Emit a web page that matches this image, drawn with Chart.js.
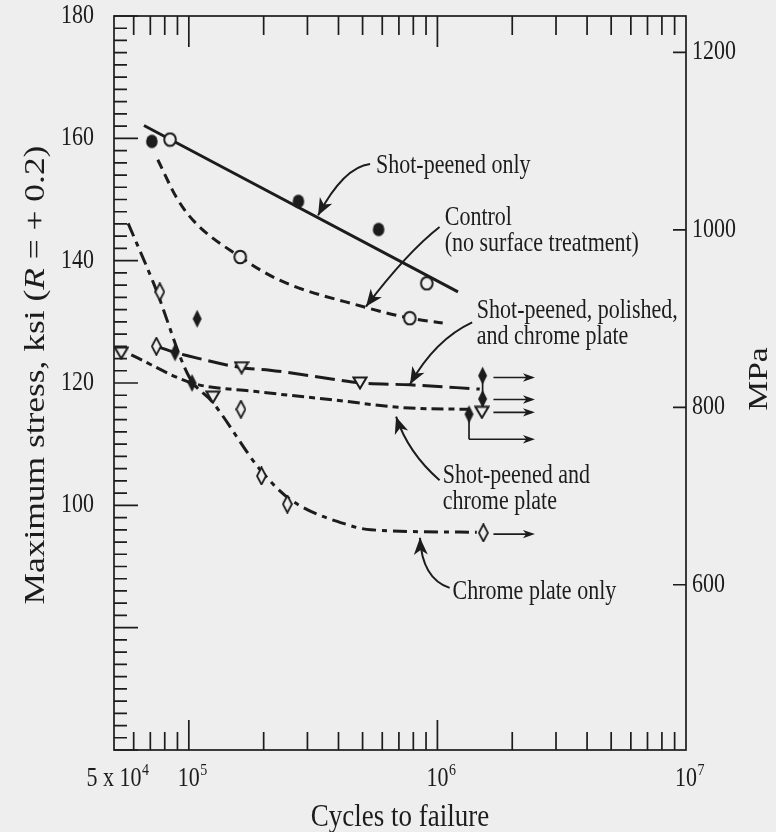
<!DOCTYPE html>
<html>
<head>
<meta charset="utf-8">
<script src="https://cdn.jsdelivr.net/npm/chart.js@4"></script>
<style>
  html, body { margin: 0; padding: 0; background: #eeeeee; }
  canvas { display: block; }
</style>
</head>
<body>
<canvas id="fatigueChart" width="776" height="832"></canvas>
<script>
// ---- data: cycles to failure (N) vs maximum stress (ksi) ----

// Shot-peened only (filled circles) + straight fit
const shotPeenedN = [7.1e4, 2.76e5, 5.8e5];
const shotPeenedKsi = [159.5, 149.7, 145.1];
const shotPeenedFitN = [6.6e4, 1.21e6];
const shotPeenedFitKsi = [162.1, 134.9];

// Control, no surface treatment (open circles)
const controlN = [8.4e4, 1.61e5, 7.74e5, 9.06e5];
const controlKsi = [159.8, 140.6, 130.6, 136.3];
const controlFitN = [7.5e4, 8.9e4, 1.04e5, 1.61e5, 2.32e5, 5.0e5, 7.74e5, 1.05e6];
const controlFitKsi = [156.5, 150.4, 146.6, 140.6, 136.8, 132.5, 130.6, 129.8];

// Shot-peened, polished, and chrome plate (open triangles)
const spPolN = [5.35e4, 1.25e5, 1.63e5, 4.88e5, 1.51e6];
const spPolKsi = [124.9, 117.7, 122.5, 120.0, 115.2];
const spPolFitN = [7.4e4, 8.8e4, 9.8e4, 1.63e5, 2.12e5, 3.69e5, 4.88e5, 7.74e5, 1.48e6];
const spPolFitKsi = [126.0, 125.0, 124.5, 122.5, 122.1, 120.7, 120.0, 119.7, 119.0];

// Shot-peened and chrome plate (filled diamonds)
const spChromeN = [8.8e4, 1.03e5, 1.08e5, 1.34e6, 1.52e6, 1.52e6];
const spChromeKsi = [125.0, 120.0, 130.5, 114.9, 117.4, 121.2];
const spChromeFitN = [5.87e4, 1.03e5, 1.87e5, 3.69e5, 7.74e5, 1.35e6];
const spChromeFitKsi = [124.6, 120.0, 118.6, 117.3, 115.9, 115.7];

// Chrome plate only (open diamonds)
const chromeN = [7.4e4, 7.64e4, 1.62e5, 1.96e5, 2.49e5, 1.53e6];
const chromeKsi = [126.0, 134.9, 115.7, 104.8, 100.2, 95.5];
const chromeFitN = [5.7e4, 7.3e4, 1.0e5, 1.25e5, 1.93e5, 2.55e5, 4.45e5, 5.4e5, 1.44e6];
const chromeFitKsi = [146.1, 135.8, 121.1, 116.8, 105.9, 101.0, 96.7, 96.0, 95.6];

// run-outs (no failure): arrows pointing right
const runoutStartN = [1.68e6, 1.68e6, 1.68e6, 1.34e6, 1.68e6];
const runoutEndN = [2.4e6, 2.4e6, 2.4e6, 2.4e6, 2.4e6];
const runoutKsi = [120.9, 117.3, 115.2, 110.8, 95.3];
// vertical ties joining stacked run-out points
const tieN = [1.52e6, 1.34e6];
const tieTopKsi = [121.5, 115.0];
const tieBottomKsi = [115.2, 110.8];

// axes
const KSI_TO_MPA = 6.895;
const yMin = 60, yMax = 180;
const yTickLabels = [100, 120, 140, 160, 180];
const mpaTicks = [600, 800, 1000, 1200];
const xMin = 5e4, xMax = 1e7;
const xLabelValues = [5e4, 1e5, 1e6, 1e7];
const xLabelBase = ['5 x 10', '10', '10', '10'];
const xLabelExp = ['4', '5', '6', '7'];

// callouts, anchored in data space [N, ksi]
const notes = [
  { lines: ['Shot-peened only'], at: [5.66e5, 154.3], from: [5.36e5, 155.8], via: [4.2e5, 155.3], tip: [3.31e5, 147.4] },
  { lines: ['Control', '(no surface treatment)'], at: [1.07e6, 145.8], from: [1.02e6, 145.5], via: [7.57e5, 141.4], tip: [5.16e5, 132.5] },
  { lines: ['Shot-peened, polished,', 'and chrome plate'], at: [1.44e6, 130.6], from: [1.38e6, 129.9], via: [9.8e5, 127.1], tip: [7.76e5, 119.8] },
  { lines: ['Shot-peened and', 'chrome plate'], at: [1.05e6, 103.7], from: [1.02e6, 104.1], via: [7.62e5, 108.6], tip: [6.82e5, 114.5] },
  { lines: ['Chrome plate only'], at: [1.15e6, 84.7], from: [1.12e6, 86.5], via: [8.67e5, 88.0], tip: [8.51e5, 94.7] }
];

const INK = '#1c1c1c';
const BG = '#eeeeee';
const SERIF = '"Liberation Serif", "Times New Roman", serif';
const STRETCH = 1.2; // scanned figure is a bit taller than wide

const pts = (xs, ys) => xs.map((n, i) => ({ x: n, y: ys[i] }));

function markerCanvas(w, h, draw) {
  const c = document.createElement('canvas');
  c.width = w; c.height = h;
  draw(c.getContext('2d'), w, h);
  return c;
}
const filledDot = markerCanvas(14, 16, (g, w, h) => {
  g.fillStyle = INK; g.beginPath(); g.ellipse(w / 2, h / 2, 5.8, 6.8, 0, 0, Math.PI * 2); g.fill();
});
const openDot = markerCanvas(16, 16, (g, w, h) => {
  g.fillStyle = BG; g.strokeStyle = INK; g.lineWidth = 2;
  g.beginPath(); g.ellipse(w / 2, h / 2, 5.8, 6.3, 0, 0, Math.PI * 2); g.fill(); g.stroke();
});
const openTri = markerCanvas(16, 14, (g, w, h) => {
  g.fillStyle = BG; g.strokeStyle = INK; g.lineWidth = 2;
  g.beginPath(); g.moveTo(1.5, 1.5); g.lineTo(w - 1.5, 1.5); g.lineTo(w / 2, h - 1.5); g.closePath(); g.fill(); g.stroke();
});
const diamondPath = (g, w, h) => {
  g.beginPath(); g.moveTo(w / 2, 1); g.lineTo(w - 1, h / 2); g.lineTo(w / 2, h - 1); g.lineTo(1, h / 2); g.closePath();
};
const filledDiamond = markerCanvas(11, 20, (g, w, h) => { g.fillStyle = INK; diamondPath(g, w, h); g.fill(); });
const openDiamond = markerCanvas(11, 19, (g, w, h) => {
  g.fillStyle = BG; g.strokeStyle = INK; g.lineWidth = 1.8; diamondPath(g, w, h); g.fill(); g.stroke();
});

// lower "order" is drawn on top in Chart.js, so markers get 0, lines 1
const fit = (xs, ys, dash, width) => ({
  data: pts(xs, ys), showLine: true, borderColor: INK, borderWidth: width || 3,
  borderDash: dash, pointRadius: 0, cubicInterpolationMode: 'monotone', order: 1
});
const marks = (xs, ys, style) => ({
  data: pts(xs, ys), showLine: false, pointStyle: style, pointRadius: 6,
  pointBackgroundColor: INK, pointBorderColor: INK, order: 0
});

const datasets = [
  fit(shotPeenedFitN, shotPeenedFitKsi, []),
  fit(controlFitN, controlFitKsi, [10, 6]),
  fit(spPolFitN, spPolFitKsi, [20, 7]),
  fit(spChromeFitN, spChromeFitKsi, [12, 5, 6, 5]),
  fit(chromeFitN, chromeFitKsi, [14, 6, 5, 6])
];
runoutKsi.forEach((k, i) => {
  datasets.push({
    data: pts([runoutStartN[i], runoutEndN[i]], [k, k]), showLine: true, borderColor: INK,
    borderWidth: 1.7, pointRadius: 0, tension: 0, arrowHead: true, order: 1
  });
});
tieN.forEach((n, i) => {
  datasets.push({
    data: pts([n, n], [tieTopKsi[i], tieBottomKsi[i]]), showLine: true, borderColor: INK,
    borderWidth: 1.7, pointRadius: 0, tension: 0, order: 1
  });
});
datasets.push(
  marks(shotPeenedN, shotPeenedKsi, filledDot),
  marks(controlN, controlKsi, openDot),
  marks(spPolN, spPolKsi, openTri),
  marks(spChromeN, spChromeKsi, filledDiamond),
  marks(chromeN, chromeKsi, openDiamond)
);

function drawHead(ctx, tx, ty, fx, fy, len, half) {
  const a = Math.atan2(ty - fy, tx - fx);
  const c = Math.cos(a), s = Math.sin(a);
  ctx.beginPath();
  ctx.moveTo(tx, ty);
  ctx.lineTo(tx - len * c - half * s, ty - len * s + half * c);
  ctx.lineTo(tx - len * 0.72 * c, ty - len * 0.72 * s);
  ctx.lineTo(tx - len * c + half * s, ty - len * s - half * c);
  ctx.closePath();
  ctx.fill();
}

// text helper: optional vertical stretch + rotation, runs of [text, italic]
function drawRuns(ctx, runs, x, y, size, opts) {
  opts = opts || {};
  ctx.save();
  ctx.translate(x, y);
  ctx.scale(1, STRETCH);
  if (opts.rotate) ctx.rotate(-Math.PI / 2);
  ctx.fillStyle = INK;
  ctx.textBaseline = opts.baseline || 'alphabetic';
  ctx.textAlign = 'left';
  const fontOf = it => (it ? 'italic ' : '') + size + 'px ' + SERIF;
  let total = 0;
  runs.forEach(r => { ctx.font = fontOf(r[1]); total += ctx.measureText(r[0]).width; });
  let cx = opts.align === 'center' ? -total / 2 : opts.align === 'right' ? -total : 0;
  runs.forEach(r => { ctx.font = fontOf(r[1]); ctx.fillText(r[0], cx, 0); cx += ctx.measureText(r[0]).width; });
  ctx.restore();
}

const bgPlugin = {
  id: 'bg',
  beforeDraw(chart) {
    const ctx = chart.ctx;
    ctx.save(); ctx.fillStyle = BG; ctx.fillRect(0, 0, chart.width, chart.height); ctx.restore();
  }
};

const framePlugin = {
  id: 'frame',
  afterDatasetsDraw(chart) {
    const { ctx, chartArea: a } = chart;
    const { x, y, y2 } = chart.scales;
    ctx.save();
    ctx.fillStyle = INK;
    // run-out arrow heads
    chart.data.datasets.forEach((ds, i) => {
      if (!ds.arrowHead) return;
      const el = chart.getDatasetMeta(i).data;
      const p = el[el.length - 1], q = el[el.length - 2];
      drawHead(ctx, p.x + 3, p.y, q.x, q.y, 12, 4.2);
    });
    ctx.strokeStyle = INK;
    ctx.lineWidth = 1.7;
    ctx.strokeRect(a.left, a.top, a.right - a.left, a.bottom - a.top);
    ctx.beginPath();
    // left: every 2 ksi, long every 20
    for (let v = yMin; v <= yMax; v += 2) {
      const py = y.getPixelForValue(v);
      const len = v % 20 === 0 ? 24 : 13;
      ctx.moveTo(a.left, py); ctx.lineTo(a.left + len, py);
    }
    // right: MPa
    mpaTicks.forEach(m => {
      const py = y2.getPixelForValue(m);
      ctx.moveTo(a.right, py); ctx.lineTo(a.right - 13, py);
    });
    // bottom + top: log ticks
    for (let d = 4; d <= 6; d++) {
      for (let m = 1; m <= 9; m++) {
        const v = m * Math.pow(10, d);
        if (v <= xMin || v >= xMax) continue;
        const px = x.getPixelForValue(v);
        const len = m === 1 ? 30 : 18;
        ctx.moveTo(px, a.bottom); ctx.lineTo(px, a.bottom - len);
        ctx.moveTo(px, a.top); ctx.lineTo(px, a.top + len + 1);
      }
    }
    ctx.stroke();
    ctx.restore();

    // tick labels
    yTickLabels.forEach(v => {
      drawRuns(ctx, [[String(v), false]], a.left - 20, y.getPixelForValue(v), 22, { align: 'right', baseline: 'middle' });
    });
    mpaTicks.forEach(m => {
      drawRuns(ctx, [[String(m), false]], a.right + 6, y2.getPixelForValue(m), 22, { baseline: 'middle' });
    });
    xLabelValues.forEach((v, i) => {
      const px = x.getPixelForValue(v);
      ctx.font = '22px ' + SERIF;
      const w = ctx.measureText(xLabelBase[i]).width;
      drawRuns(ctx, [[xLabelBase[i], false]], px - w / 2, a.bottom + 36, 22);
      drawRuns(ctx, [[xLabelExp[i], false]], px + w / 2 + 0.5, a.bottom + 25, 14);
    });

    // axis titles
    drawRuns(ctx, [['Cycles to failure', false]], (a.left + a.right) / 2, 826, 27, { align: 'center' });
    drawRuns(ctx, [['Maximum stress, ksi (', false], ['R', true], [' = + 0.2)', false]],
      44, 375, 29.5, { align: 'center', rotate: true });
    drawRuns(ctx, [['MPa', false]], 767, 379, 28, { align: 'center', rotate: true });
  }
};

const notesPlugin = {
  id: 'notes',
  afterDraw(chart) {
    const { ctx } = chart;
    const { x, y } = chart.scales;
    const P = d => [x.getPixelForValue(d[0]), y.getPixelForValue(d[1])];
    notes.forEach(n => {
      const [tx, ty] = P(n.at);
      n.lines.forEach((l, i) => drawRuns(ctx, [[l, false]], tx, ty + i * 26, 22));
      const f = P(n.from), c = P(n.via), t = P(n.tip);
      ctx.save();
      ctx.strokeStyle = INK; ctx.fillStyle = INK; ctx.lineWidth = 2;
      ctx.beginPath(); ctx.moveTo(f[0], f[1]); ctx.quadraticCurveTo(c[0], c[1], t[0], t[1]); ctx.stroke();
      drawHead(ctx, t[0], t[1], c[0], c[1], 17, 7);
      ctx.restore();
    });
  }
};

new Chart(document.getElementById('fatigueChart'), {
  type: 'scatter',
  data: { datasets: datasets },
  options: {
    responsive: false,
    animation: false,
    devicePixelRatio: 1,
    events: [],
    layout: { padding: { top: 16, left: 0, right: 0, bottom: 0 } },
    plugins: { legend: { display: false }, tooltip: { enabled: false } },
    scales: {
      x: {
        type: 'logarithmic', min: xMin, max: xMax, position: 'bottom',
        ticks: { display: false }, grid: { display: false }, border: { display: false },
        afterFit: s => { s.height = 82; }
      },
      y: {
        type: 'linear', min: yMin, max: yMax, position: 'left',
        ticks: { display: false }, grid: { display: false }, border: { display: false },
        afterFit: s => { s.width = 114; }
      },
      y2: {
        type: 'linear', min: yMin * KSI_TO_MPA, max: yMax * KSI_TO_MPA, position: 'right',
        ticks: { display: false }, grid: { display: false }, border: { display: false },
        afterFit: s => { s.width = 90; }
      }
    }
  },
  plugins: [bgPlugin, framePlugin, notesPlugin]
});
</script>
</body>
</html>
